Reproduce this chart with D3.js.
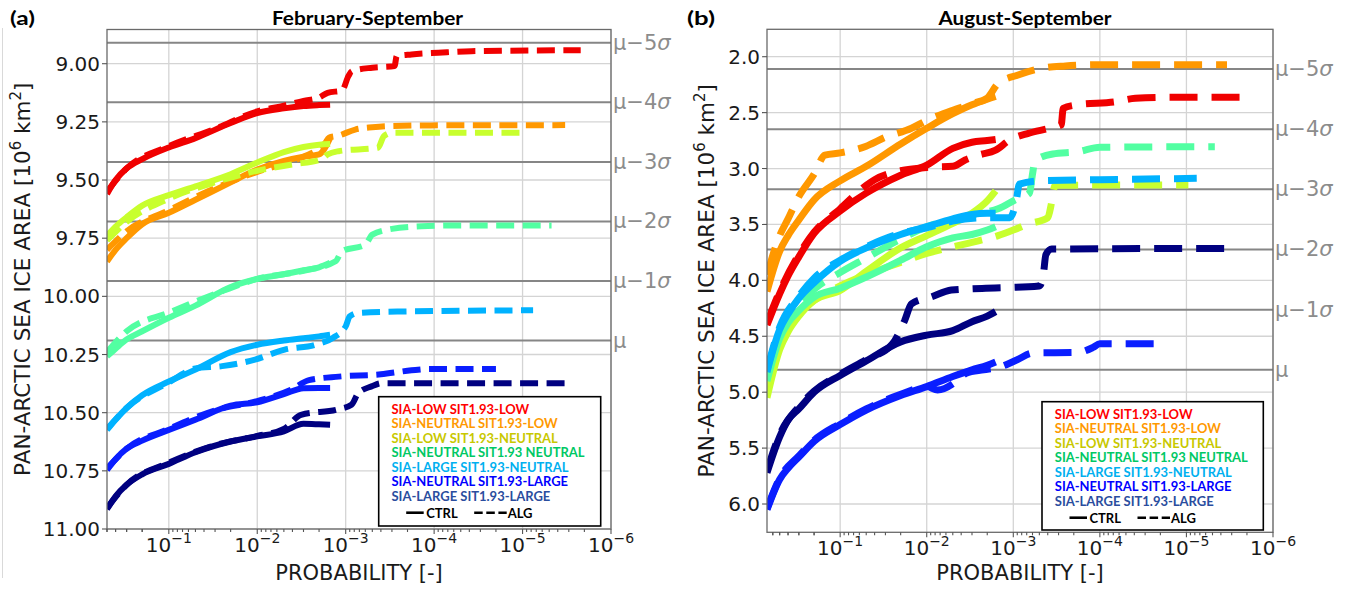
<!DOCTYPE html>
<html>
<head>
<meta charset="utf-8">
<script src="https://cdn.jsdelivr.net/npm/d3@7"></script>
<style>
  html, body { margin: 0; padding: 0; background: #ffffff; }
  svg { display: block; }
</style>
</head>
<body>
<svg id="chart" width="1349" height="591"></svg>
<script>
// ---------------------------------------------------------------------------
// Scenario names, legend text colours and line colours
// ---------------------------------------------------------------------------
const scenarios = [
  "SIA-LOW SIT1.93-LOW",
  "SIA-NEUTRAL SIT1.93-LOW",
  "SIA-LOW SIT1.93-NEUTRAL",
  "SIA-NEUTRAL SIT1.93 NEUTRAL",
  "SIA-LARGE SIT1.93-NEUTRAL",
  "SIA-NEUTRAL SIT1.93-LARGE",
  "SIA-LARGE SIT1.93-LARGE"
];
const legendColors = ["#ff0000", "#ff9900", "#c8c800", "#00c864", "#00b0f0", "#0000ff", "#2a4d9e"];
const lineColors   = ["#f00000", "#ff9800", "#c8ff2e", "#52ffa2", "#00b2ff", "#0a1eff", "#000080"];

// x tick exponents and sigma-line multiples
const xTickExponents = [-1, -2, -3, -4, -5, -6];
const sigmaMultiples = [0, 1, 2, 3, 4, 5];

// ---------------------------------------------------------------------------
// (a) February-September: minimum pan-Arctic sea ice area [10^6 km^2]
// ---------------------------------------------------------------------------
const yTicksA = [9.00, 9.25, 9.50, 9.75, 10.00, 10.25, 10.50, 10.75, 11.00];
const muA = 10.19, sigmaA = 0.256;

// CTRL: common exceedance-probability grid
const probCtrlA = [0.5, 0.4, 0.3, 0.2, 0.1, 0.05, 0.02, 0.01, 0.005, 0.003, 0.002, 0.0015];
const ctrlA_lowLow         = [9.56, 9.50, 9.45, 9.41, 9.36, 9.32, 9.255, 9.212, 9.192, 9.182, 9.178, 9.176];
const ctrlA_neutralLow     = [9.85, 9.80, 9.75, 9.69, 9.641, 9.585, 9.51, 9.455, 9.418, 9.40, 9.39, 9.32];
const ctrlA_lowNeutral     = [9.74, 9.70, 9.66, 9.61, 9.565, 9.527, 9.475, 9.425, 9.38, 9.358, 9.348, 9.345];
const ctrlA_neutralNeutral = [10.258, 10.225, 10.185, 10.15, 10.092, 10.04, 9.96, 9.925, 9.905, 9.888, 9.875, 9.856];
const ctrlA_largeNeutral   = [10.574, 10.53, 10.48, 10.425, 10.366, 10.315, 10.24, 10.208, 10.19, 10.18, 10.172, 10.165];
const ctrlA_neutralLarge   = [10.746, 10.70, 10.655, 10.62, 10.574, 10.53, 10.47, 10.455, 10.42, 10.395, 10.394, 10.394];
const ctrlA_largeLarge     = [10.915, 10.86, 10.81, 10.765, 10.72, 10.67, 10.624, 10.602, 10.58, 10.548, 10.55, 10.552];

// ALG: each run reaches its own smallest probability
const algA_lowLow_p = [0.5, 0.3, 0.1, 0.03, 0.01, 0.005, 0.003, 0.002, 0.0016, 0.0011, 0.00093, 0.00085, 0.0005, 0.00028, 0.000265, 0.00018, 0.00009, 0.000038, 0.0000022];
const algA_lowLow_v = [9.55, 9.45, 9.355, 9.28, 9.205, 9.18, 9.16, 9.146, 9.125, 9.115, 9.053, 9.032, 9.017, 9.01, 8.967, 8.96, 8.953, 8.946, 8.942];
const algA_neutralLow_p = [0.5, 0.3, 0.1, 0.03, 0.01, 0.005, 0.003, 0.0017, 0.00155, 0.0012, 0.00078, 0.0005, 0.00033, 0.00009, 0.0000033];
const algA_neutralLow_v = [9.80, 9.72, 9.63, 9.535, 9.465, 9.43, 9.40, 9.34, 9.318, 9.309, 9.283, 9.273, 9.268, 9.265, 9.264];
const algA_lowNeutral_p = [0.5, 0.3, 0.1, 0.03, 0.01, 0.004, 0.0019, 0.0016, 0.0012, 0.00043, 0.00037, 0.0003, 0.000009];
const algA_lowNeutral_v = [9.76, 9.68, 9.58, 9.51, 9.46, 9.433, 9.412, 9.39, 9.376, 9.361, 9.311, 9.297, 9.297];
const algA_neutralNeutral_p = [0.5, 0.3, 0.1, 0.03, 0.01, 0.003, 0.0013, 0.0011, 0.0006, 0.0005, 0.0003, 0.00014, 0.000058, 0.0000047];
const algA_neutralNeutral_v = [10.24, 10.15, 10.07, 9.99, 9.925, 9.89, 9.849, 9.806, 9.778, 9.735, 9.71, 9.699, 9.695, 9.695];
const algA_largeNeutral_p = [0.5, 0.3, 0.1, 0.05, 0.025, 0.0106, 0.0049, 0.0022, 0.0014, 0.001, 0.0009, 0.00072, 0.00021, 0.0000076];
const algA_largeNeutral_v = [10.57, 10.48, 10.37, 10.31, 10.30, 10.272, 10.229, 10.208, 10.179, 10.129, 10.086, 10.071, 10.065, 10.06];
const algA_neutralLarge_p = [0.5, 0.3, 0.1, 0.03, 0.01, 0.0041, 0.0026, 0.0012, 0.0004, 0.00018, 0.00011, 0.00002];
const algA_neutralLarge_v = [10.74, 10.655, 10.57, 10.49, 10.45, 10.40, 10.36, 10.345, 10.335, 10.318, 10.312, 10.312];
const algA_largeLarge_p = [0.5, 0.3, 0.1, 0.03, 0.01, 0.005, 0.0032, 0.0012, 0.00086, 0.00072, 0.00051, 0.00039, 0.0000028];
const algA_largeLarge_v = [10.91, 10.81, 10.715, 10.64, 10.60, 10.57, 10.509, 10.485, 10.466, 10.416, 10.387, 10.373, 10.373];

// ---------------------------------------------------------------------------
// (b) August-September
// ---------------------------------------------------------------------------
const yTicksB = [2.0, 2.5, 3.0, 3.5, 4.0, 4.5, 5.0, 5.5, 6.0];
const muB = 4.80, sigmaB = 0.538;

const probCtrlB = [0.7, 0.5, 0.4, 0.3, 0.2, 0.1, 0.05, 0.02, 0.01, 0.005, 0.003, 0.002, 0.0016];
const ctrlB_lowLow         = [4.40, 4.12, 3.96, 3.79, 3.58, 3.38, 3.22, 3.06, 2.97, 2.82, 2.765, 2.75, 2.74];
const ctrlB_neutralLow     = [4.10, 3.74, 3.60, 3.46, 3.28, 3.11, 2.98, 2.78, 2.64, 2.51, 2.43, 2.38, 2.355];
const ctrlB_lowNeutral     = [5.05, 4.62, 4.46, 4.32, 4.18, 4.09, 3.92, 3.71, 3.60, 3.49, 3.40, 3.29, 3.20];
const ctrlB_neutralNeutral = [4.90, 4.52, 4.38, 4.27, 4.15, 4.07, 3.97, 3.82, 3.70, 3.62, 3.59, 3.55, 3.52];
const ctrlB_largeNeutral   = [4.82, 4.44, 4.30, 4.16, 4.02, 3.83, 3.71, 3.59, 3.52, 3.45, 3.41, 3.40, 3.40];
const ctrlB_neutralLarge   = [6.05, 5.78, 5.68, 5.58, 5.44, 5.29, 5.16, 5.03, 4.95, 4.86, 4.80, 4.76, 4.73];
const ctrlB_largeLarge     = [5.72, 5.40, 5.25, 5.15, 5.00, 4.85, 4.72, 4.55, 4.49, 4.45, 4.37, 4.32, 4.28];

const algB_lowLow_p = [0.7, 0.5, 0.3, 0.2, 0.1, 0.05, 0.04, 0.02, 0.01, 0.005, 0.0036, 0.0025, 0.0016, 0.0011, 0.00067, 0.00039, 0.00028, 0.000265, 0.00019, 0.000067, 0.000039, 0.0000177, 0.0000022];
const algB_lowLow_v = [4.38, 4.10, 3.77, 3.57, 3.36, 3.15, 3.10, 3.02, 2.99, 2.98, 2.924, 2.879, 2.835, 2.745, 2.685, 2.641, 2.611, 2.462, 2.432, 2.403, 2.372, 2.363, 2.363];
const algB_neutralLow_p = [0.7, 0.5, 0.4, 0.3, 0.2, 0.15, 0.1, 0.05, 0.03, 0.015, 0.01, 0.005, 0.003, 0.002, 0.0015, 0.00088, 0.00047, 0.00025, 0.000104, 0.0000034];
const algB_neutralLow_v = [3.95, 3.60, 3.45, 3.25, 3.05, 2.88, 2.86, 2.80, 2.72, 2.64, 2.57, 2.48, 2.42, 2.37, 2.24, 2.164, 2.104, 2.083, 2.072, 2.072];
const algB_lowNeutral_p = [0.7, 0.5, 0.3, 0.2, 0.1, 0.05, 0.02, 0.01, 0.005, 0.003, 0.0015, 0.001, 0.0007, 0.0004, 0.00036, 0.00033, 0.0001, 0.0000095];
const algB_lowNeutral_v = [4.95, 4.58, 4.30, 4.18, 4.05, 3.95, 3.84, 3.76, 3.70, 3.66, 3.60, 3.55, 3.50, 3.44, 3.30, 3.15, 3.148, 3.148];
const algB_neutralNeutral_p = [0.7, 0.5, 0.3, 0.2, 0.1, 0.05, 0.02, 0.01, 0.0036, 0.0025, 0.0015, 0.00095, 0.00065, 0.0006, 0.00056, 0.00035, 0.00018, 0.0001, 0.0000047];
const algB_neutralNeutral_v = [4.85, 4.50, 4.22, 4.08, 3.93, 3.80, 3.63, 3.52, 3.431, 3.40, 3.36, 3.28, 3.22, 3.05, 2.93, 2.87, 2.85, 2.81, 2.805];
const algB_largeNeutral_p = [0.7, 0.5, 0.3, 0.2, 0.1, 0.05, 0.02, 0.01, 0.005, 0.002, 0.0011, 0.00093, 0.00085, 0.0005, 0.0001, 0.0000076];
const algB_largeNeutral_v = [4.80, 4.42, 4.14, 3.98, 3.82, 3.70, 3.58, 3.53, 3.47, 3.44, 3.44, 3.30, 3.14, 3.11, 3.10, 3.088];
const algB_neutralLarge_p = [0.7, 0.5, 0.3, 0.2, 0.1, 0.05, 0.02, 0.01, 0.0075, 0.0045, 0.0035, 0.0022, 0.0015, 0.0009, 0.0006, 0.00018, 0.00012, 0.0001, 0.00002];
const algB_neutralLarge_v = [6.04, 5.77, 5.57, 5.43, 5.28, 5.15, 5.02, 4.95, 4.98, 4.90, 4.83, 4.80, 4.78, 4.71, 4.65, 4.645, 4.60, 4.567, 4.567];
const algB_largeLarge_p = [0.7, 0.5, 0.3, 0.2, 0.1, 0.05, 0.025, 0.018, 0.015, 0.0088, 0.0052, 0.0023, 0.0005, 0.00045, 0.00042, 0.00036, 0.0000029];
const algB_largeLarge_v = [5.70, 5.38, 5.13, 4.99, 4.84, 4.71, 4.57, 4.36, 4.21, 4.147, 4.087, 4.072, 4.05, 3.95, 3.77, 3.72, 3.714];

// ---------------------------------------------------------------------------
// Panel set-up
// ---------------------------------------------------------------------------
const zip = (p, v) => p.map((d, i) => [d, v[i]]);

const panels = [
  {
    id: "a", tag: "(a)", title: "February-September",
    box: { left: 107, right: 611, top: 29.5, bottom: 529 },
    xDomain: [0.5, 1e-6], yDomain: [8.853, 11.0],
    yTicks: yTicksA, yFormat: d3.format(".2f"),
    mu: muA, sigma: sigmaA,
    ctrl: [ctrlA_lowLow, ctrlA_neutralLow, ctrlA_lowNeutral, ctrlA_neutralNeutral,
           ctrlA_largeNeutral, ctrlA_neutralLarge, ctrlA_largeLarge].map(v => zip(probCtrlA, v)),
    alg: [zip(algA_lowLow_p, algA_lowLow_v), zip(algA_neutralLow_p, algA_neutralLow_v),
          zip(algA_lowNeutral_p, algA_lowNeutral_v), zip(algA_neutralNeutral_p, algA_neutralNeutral_v),
          zip(algA_largeNeutral_p, algA_largeNeutral_v), zip(algA_neutralLarge_p, algA_neutralLarge_v),
          zip(algA_largeLarge_p, algA_largeLarge_v)],
    lineWidth: 6, dash: "18,8.5",
    tagPos: { x: 10, y: 25, w: 25 }, titlePos: { cx: 367.5, y: 25, w: 191 },
    yLabelX: 30, legend: { x: 378.7, y: 396.7, w: 222, h: 129.3 }
  },
  {
    id: "b", tag: "(b)", title: "August-September",
    box: { left: 767, right: 1273, top: 29.3, bottom: 532.3 },
    xDomain: [0.7, 1e-6], yDomain: [1.755, 6.253],
    yTicks: yTicksB, yFormat: d3.format(".1f"),
    mu: muB, sigma: sigmaB,
    ctrl: [ctrlB_lowLow, ctrlB_neutralLow, ctrlB_lowNeutral, ctrlB_neutralNeutral,
           ctrlB_largeNeutral, ctrlB_neutralLarge, ctrlB_largeLarge].map(v => zip(probCtrlB, v)),
    alg: [zip(algB_lowLow_p, algB_lowLow_v), zip(algB_neutralLow_p, algB_neutralLow_v),
          zip(algB_lowNeutral_p, algB_lowNeutral_v), zip(algB_neutralNeutral_p, algB_neutralNeutral_v),
          zip(algB_largeNeutral_p, algB_largeNeutral_v), zip(algB_neutralLarge_p, algB_neutralLarge_v),
          zip(algB_largeLarge_p, algB_largeLarge_v)],
    lineWidth: 7, dash: "28,14",
    tagPos: { x: 687, y: 25, w: 28 }, titlePos: { cx: 1025, y: 25, w: 173 },
    yLabelX: 714, legend: { x: 1042, y: 401.7, w: 221.3, h: 128.3 }
  }
];

const svg = d3.select("#chart");
const MPL_FONT = "DejaVu Sans, sans-serif";
const BOLD_FONT = "Lato, Open Sans, sans-serif";

// faint frame line on the far left
svg.append("line")
  .attr("x1", 2.5).attr("x2", 2.5).attr("y1", 28).attr("y2", 578)
  .attr("stroke", "#d9d9d9").attr("stroke-width", 1);

// fit a bold label to a given width
function fitText(sel, width) {
  sel.attr("textLength", width).attr("lengthAdjust", "spacingAndGlyphs");
}

panels.forEach(P => {
  const B = P.box;
  const x = d3.scaleLog().domain(P.xDomain).range([B.left, B.right]);
  const y = d3.scaleLinear().domain(P.yDomain).range([B.top, B.bottom]);
  const g = svg.append("g").attr("class", "panel-" + P.id);

  const clipId = "clip-" + P.id;
  g.append("clipPath").attr("id", clipId)
    .append("rect").attr("x", B.left).attr("y", B.top)
    .attr("width", B.right - B.left).attr("height", B.bottom - B.top);

  // grid
  const grid = g.append("g").attr("stroke", "#d4d4d4").attr("stroke-width", 1.3);
  xTickExponents.forEach(e => {
    const xx = x(Math.pow(10, e));
    grid.append("line").attr("x1", xx).attr("x2", xx).attr("y1", B.top).attr("y2", B.bottom);
  });
  P.yTicks.forEach(t => {
    const yy = y(t);
    grid.append("line").attr("x1", B.left).attr("x2", B.right).attr("y1", yy).attr("y2", yy);
  });

  // mean and sigma reference lines
  const sig = g.append("g");
  sigmaMultiples.forEach(k => {
    const v = P.mu - k * P.sigma;
    const yy = y(v);
    sig.append("line").attr("x1", B.left).attr("x2", B.right).attr("y1", yy).attr("y2", yy)
      .attr("stroke", "#868686").attr("stroke-width", 2);
    const t = sig.append("text")
      .attr("x", B.right + 2).attr("y", yy)
      .attr("dominant-baseline", "central")
      .attr("font-family", MPL_FONT).attr("font-size", 21).attr("fill", "#8c8c8c");
    if (k === 0) {
      t.text("\u03bc");
    } else {
      t.append("tspan").text("\u03bc\u2212" + k);
      t.append("tspan").attr("font-style", "italic").text("\u03c3");
    }
  });

  // curves
  const line = d3.line()
    .x(d => x(d[0])).y(d => y(d[1]))
    .curve(d3.curveMonotoneX);
  const curves = g.append("g").attr("clip-path", `url(#${clipId})`)
    .attr("fill", "none").attr("stroke-linejoin", "round");
  scenarios.forEach((name, i) => {
    curves.append("path")
      .attr("d", line(P.ctrl[i]))
      .attr("stroke", lineColors[i]).attr("stroke-width", P.lineWidth)
      .attr("stroke-linecap", "butt");
    curves.append("path")
      .attr("d", line(P.alg[i]))
      .attr("stroke", lineColors[i]).attr("stroke-width", P.lineWidth)
      .attr("stroke-dasharray", P.dash)
      .attr("stroke-linecap", "butt");
  });

  // frame
  g.append("rect")
    .attr("x", B.left).attr("y", B.top)
    .attr("width", B.right - B.left).attr("height", B.bottom - B.top)
    .attr("fill", "none").attr("stroke", "#6a6a6a").attr("stroke-width", 1.3);

  // x ticks (major + minor) and labels
  const xt = g.append("g").attr("stroke", "#555").attr("stroke-width", 1.1);
  for (let e = -1; e >= -6; e--) {
    for (let m = 1; m <= 9; m++) {
      const v = m * Math.pow(10, e);
      if (v > P.xDomain[0] || v < P.xDomain[1]) continue;
      const xx = x(v);
      xt.append("line").attr("x1", xx).attr("x2", xx)
        .attr("y1", B.bottom).attr("y2", B.bottom + (m === 1 ? 5 : 3));
    }
  }
  for (let m = 2; m <= 9; m++) {
    const v = m * 0.1;
    if (v > P.xDomain[0]) continue;
    const xx = x(v);
    xt.append("line").attr("x1", xx).attr("x2", xx).attr("y1", B.bottom).attr("y2", B.bottom + 3);
  }
  xTickExponents.forEach(e => {
    const t = g.append("text")
      .attr("x", x(Math.pow(10, e))).attr("y", B.bottom + 23)
      .attr("text-anchor", "middle")
      .attr("font-family", MPL_FONT).attr("font-size", 20).attr("fill", "#1a1a1a");
    t.append("tspan").text("10");
    t.append("tspan").attr("font-size", 14).attr("dy", -9).text("\u2212" + Math.abs(e));
  });

  // y ticks and labels
  P.yTicks.forEach(tv => {
    const yy = y(tv);
    g.append("line").attr("x1", B.left - 5).attr("x2", B.left).attr("y1", yy).attr("y2", yy)
      .attr("stroke", "#555").attr("stroke-width", 1.1);
    g.append("text")
      .attr("x", B.left - 7).attr("y", yy)
      .attr("text-anchor", "end").attr("dominant-baseline", "central")
      .attr("font-family", MPL_FONT).attr("font-size", 20).attr("fill", "#1a1a1a")
      .text(P.yFormat(tv));
  });

  // axis labels
  g.append("text")
    .attr("x", (B.left + B.right) / 2).attr("y", 580)
    .attr("text-anchor", "middle")
    .attr("font-family", MPL_FONT).attr("font-size", 21).attr("fill", "#1a1a1a")
    .text("PROBABILITY [-]");
  const yl = g.append("text")
    .attr("transform", `translate(${P.yLabelX},${(B.top + B.bottom) / 2}) rotate(-90)`)
    .attr("text-anchor", "middle")
    .attr("font-family", MPL_FONT).attr("font-size", 21.5).attr("fill", "#1a1a1a");
  yl.append("tspan").text("PAN-ARCTIC SEA ICE AREA [10");
  yl.append("tspan").attr("font-size", 15).attr("dy", -9).text("6");
  yl.append("tspan").attr("dy", 9).text(" km");
  yl.append("tspan").attr("font-size", 15).attr("dy", -9).text("2");
  yl.append("tspan").attr("dy", 9).text("]");

  // panel tag and title
  g.append("text")
    .attr("x", P.tagPos.x).attr("y", P.tagPos.y)
    .attr("font-family", BOLD_FONT).attr("font-weight", 700).attr("font-size", 19)
    .attr("fill", "#000").text(P.tag)
    .call(fitText, P.tagPos.w);
  g.append("text")
    .attr("x", P.titlePos.cx).attr("y", P.titlePos.y)
    .attr("text-anchor", "middle")
    .attr("font-family", BOLD_FONT).attr("font-weight", 700).attr("font-size", 19)
    .attr("fill", "#000").text(P.title)
    .call(fitText, P.titlePos.w);

  // legend
  const L = P.legend;
  const lg = g.append("g");
  lg.append("rect").attr("x", L.x).attr("y", L.y).attr("width", L.w).attr("height", L.h)
    .attr("fill", "#fff").attr("stroke", "#000").attr("stroke-width", 1.6);
  const rowH = 14.5;
  const entries = scenarios.map((name, i) =>
    lg.append("text")
      .attr("x", L.x + 12.8).attr("y", L.y + 11.8 + i * rowH)
      .attr("dominant-baseline", "central")
      .attr("font-family", BOLD_FONT).attr("font-weight", 700).attr("font-size", 13.5)
      .attr("fill", legendColors[i]).text(name));
  const widths = entries.map(t => t.node().getComputedTextLength());
  const k = 193 / d3.max(widths);
  entries.forEach((t, i) => fitText(t, widths[i] * k));

  const ry = L.y + 116;
  lg.append("line").attr("x1", L.x + 27.5).attr("x2", L.x + 45).attr("y1", ry).attr("y2", ry)
    .attr("stroke", "#000").attr("stroke-width", 2.6);
  const ct = lg.append("text").attr("x", L.x + 47.5).attr("y", ry)
    .attr("dominant-baseline", "central")
    .attr("font-family", BOLD_FONT).attr("font-weight", 700).attr("font-size", 13.5)
    .attr("fill", "#000").text("CTRL");
  fitText(ct, ct.node().getComputedTextLength() * k);
  lg.append("line").attr("x1", L.x + 95.5).attr("x2", L.x + 128).attr("y1", ry).attr("y2", ry)
    .attr("stroke", "#000").attr("stroke-width", 2.6).attr("stroke-dasharray", "8.5,3.6");
  const at = lg.append("text").attr("x", L.x + 129).attr("y", ry)
    .attr("dominant-baseline", "central")
    .attr("font-family", BOLD_FONT).attr("font-weight", 700).attr("font-size", 13.5)
    .attr("fill", "#000").text("ALG");
  fitText(at, at.node().getComputedTextLength() * k);
});
</script>
</body>
</html>
